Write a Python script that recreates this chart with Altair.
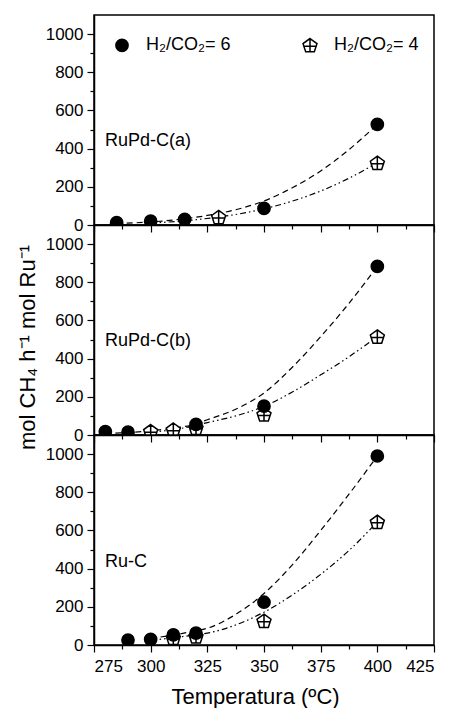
import math
import altair as alt
import pandas as pd

# ---------------- data ----------------
R6 = "H₂/CO₂= 6"
R4 = "H₂/CO₂= 4"
panel_labels = ["RuPd-C(a)", "RuPd-C(b)", "Ru-C"]

# Panel (a) RuPd-C(a): measured points
a6_temp = [285, 300, 315, 350, 400]
a6_rate = [12, 20, 30, 87, 527]
a4_temp = [330, 400]
a4_rate = [42, 326]
# fitted curves
a6_fit_temp = [285, 300, 310, 325, 337.5, 350, 362.5, 375, 387.5, 400]
a6_fit_rate = [8, 16, 26, 50, 80, 126, 195, 283, 395, 527]
a4_fit_temp = [300, 315, 330, 337.5, 350, 362.5, 375, 387.5, 400]
a4_fit_rate = [10, 22, 42, 55, 85, 125, 178, 245, 326]

# Panel (b) RuPd-C(b)
b6_temp = [280, 290, 320, 350, 400]
b6_rate = [18, 15, 56, 151, 883]
b4_temp = [300, 310, 320, 350, 400]
b4_rate = [20, 28, 38, 108, 516]
b6_fit_temp = [280, 290, 300, 310, 318, 325, 337.5, 350, 362.5, 375, 387.5, 400]
b6_fit_rate = [8, 13, 22, 36, 52, 80, 135, 220, 355, 515, 690, 883]
b4_fit_temp = [300, 310, 318, 325, 337.5, 350, 362.5, 375, 387.5, 400]
b4_fit_rate = [15, 28, 45, 65, 100, 150, 225, 315, 410, 516]

# Panel (c) Ru-C
c6_temp = [290, 300, 310, 320, 350, 400]
c6_rate = [26, 30, 53, 62, 224, 990]
c4_temp = [310, 320, 350, 400]
c4_rate = [37, 45, 127, 645]
c6_fit_temp = [300, 310, 318, 325, 337.5, 350, 362.5, 375, 387.5, 400]
c6_fit_rate = [35, 52, 70, 88, 160, 270, 420, 600, 790, 990]
c4_fit_temp = [300, 310, 318, 325, 337.5, 350, 362.5, 375, 387.5, 400]
c4_fit_rate = [25, 38, 50, 62, 105, 172, 262, 370, 495, 645]

x_tick_values = [275, 287.5, 300, 312.5, 325, 337.5, 350, 362.5, 375, 387.5, 400, 412.5, 425]
y_tick_values = [0, 100, 200, 300, 400, 500, 600, 700, 800, 900, 1000]


def pts_frame(t4, v4, t6, v6):
    return pd.DataFrame({
        "temp": list(t4) + list(t6),
        "rate": list(v4) + list(v6),
        "ratio": [R4] * len(t4) + [R6] * len(t6),
    })


def fit_frame(t6, v6, t4, v4):
    return pd.DataFrame({
        "temp": list(t6) + list(t4),
        "rate": list(v6) + list(v4),
        "ratio": [R6] * len(t6) + [R4] * len(t4),
    })


panels_data = [
    (pts_frame(a4_temp, a4_rate, a6_temp, a6_rate), fit_frame(a6_fit_temp, a6_fit_rate, a4_fit_temp, a4_fit_rate)),
    (pts_frame(b4_temp, b4_rate, b6_temp, b6_rate), fit_frame(b6_fit_temp, b6_fit_rate, b4_fit_temp, b4_fit_rate)),
    (pts_frame(c4_temp, c4_rate, c6_temp, c6_rate), fit_frame(c6_fit_temp, c6_fit_rate, c4_fit_temp, c4_fit_rate)),
]

# ---------------- styling ----------------
FONT = "Liberation Sans"


def pentagon_path(R=1.2):
    sh = 0.0955 * R
    def p(x, y):
        return f"{x * R:.3f},{y * R + sh:.3f}"
    return (
        f"M{p(0, -1)}L{p(0.951, -0.309)}L{p(0.588, 0.809)}L{p(-0.588, 0.809)}L{p(-0.951, -0.309)}Z"
        f"M{p(-0.838, 0.04)}L{p(0.838, 0.04)}M{p(0, -1)}L{p(0, 0.809)}"
    )


PENT = pentagon_path()

legend_main = alt.Legend(
    title=None, orient="none", legendX=19, legendY=21, direction="horizontal",
    labelFontSize=18, labelFont=FONT, labelColor="black", symbolSize=150,
    symbolStrokeColor="black", symbolStrokeWidth=1.5, columnPadding=69,
    labelOffset=15, padding=0,
)

label_y = [126, 116, 127]


def make_panel(i):
    pts, fit = panels_data[i]
    bottom = i == 2
    lg = legend_main if i == 0 else None
    x_axis = alt.Axis(
        values=x_tick_values, labels=bottom,
        labelExpr="datum.value % 25 === 0 ? datum.label : ''",
        title="Temperatura (ºC)" if bottom else None,
        tickSize={"condition": {"test": "datum.value % 25 === 0", "value": 7}, "value": 4},
        labelPadding=6, titlePadding=12, titleX=161,
    )
    y_axis = alt.Axis(
        values=y_tick_values, format="d",
        labelExpr="datum.value % 200 === 0 ? datum.label : ''",
        title="mol CH₄ h⁻¹ mol Ru⁻¹" if i == 1 else None,
        tickSize={"condition": {"test": "datum.value % 200 === 0", "value": 7}, "value": 4},
        labelPadding=4, titlePadding=6, titleY=122,
    )
    x = alt.X("temp:Q", scale=alt.Scale(domain=[275, 425], nice=False, zero=False), axis=x_axis)
    y = alt.Y("rate:Q", scale=alt.Scale(domain=[0, 1100], nice=False), axis=y_axis)

    lines = alt.Chart(fit).mark_line(
        color="black", strokeWidth=1.2, clip=True, interpolate="monotone"
    ).encode(
        x=x, y=y,
        strokeDash=alt.StrokeDash("ratio:N", scale=alt.Scale(domain=[R6, R4], range=[[6, 4], [6, 3, 1.5, 3, 1.5, 3]]), legend=None),
        detail="ratio:N",
    )
    points = alt.Chart(pts).mark_point(
        filled=True, strokeWidth=1.5, size=150, opacity=1, clip=True
    ).encode(
        x=x, y=y,
        shape=alt.Shape("ratio:N", scale=alt.Scale(domain=[R6, R4], range=["circle", PENT]), legend=lg),
        fill=alt.Fill("ratio:N", scale=alt.Scale(domain=[R6, R4], range=["black", "white"]), legend=lg),
        stroke=alt.Stroke("ratio:N", scale=alt.Scale(domain=[R6, R4], range=["black", "black"]), legend=lg),
    )
    label = alt.Chart(pd.DataFrame({"name": [panel_labels[i]]})).mark_text(
        align="left", baseline="middle", fontSize=18, font=FONT, color="black"
    ).encode(x=alt.value(11), y=alt.value(label_y[i]), text="name:N")

    return alt.layer(lines, points, label).properties(width=340, height=210)


chart = alt.vconcat(make_panel(0), make_panel(1), make_panel(2), spacing=0, bounds="flush").resolve_legend(
    shape="independent", fill="independent", stroke="independent"
).properties(
    padding={"left": 7, "top": 6, "right": 0, "bottom": 0}
).configure_view(
    stroke="black", strokeWidth=1.5
).configure_axis(
    domainColor="black", domainWidth=1.5, tickColor="black", tickWidth=1.2,
    labelColor="black", labelFont=FONT, labelFontSize=17, titleFont=FONT,
    titleFontSize=22, titleFontWeight="normal", titleColor="black", grid=False,
)

chart.save("out.html", embed_options={"renderer": "svg", "actions": False})
